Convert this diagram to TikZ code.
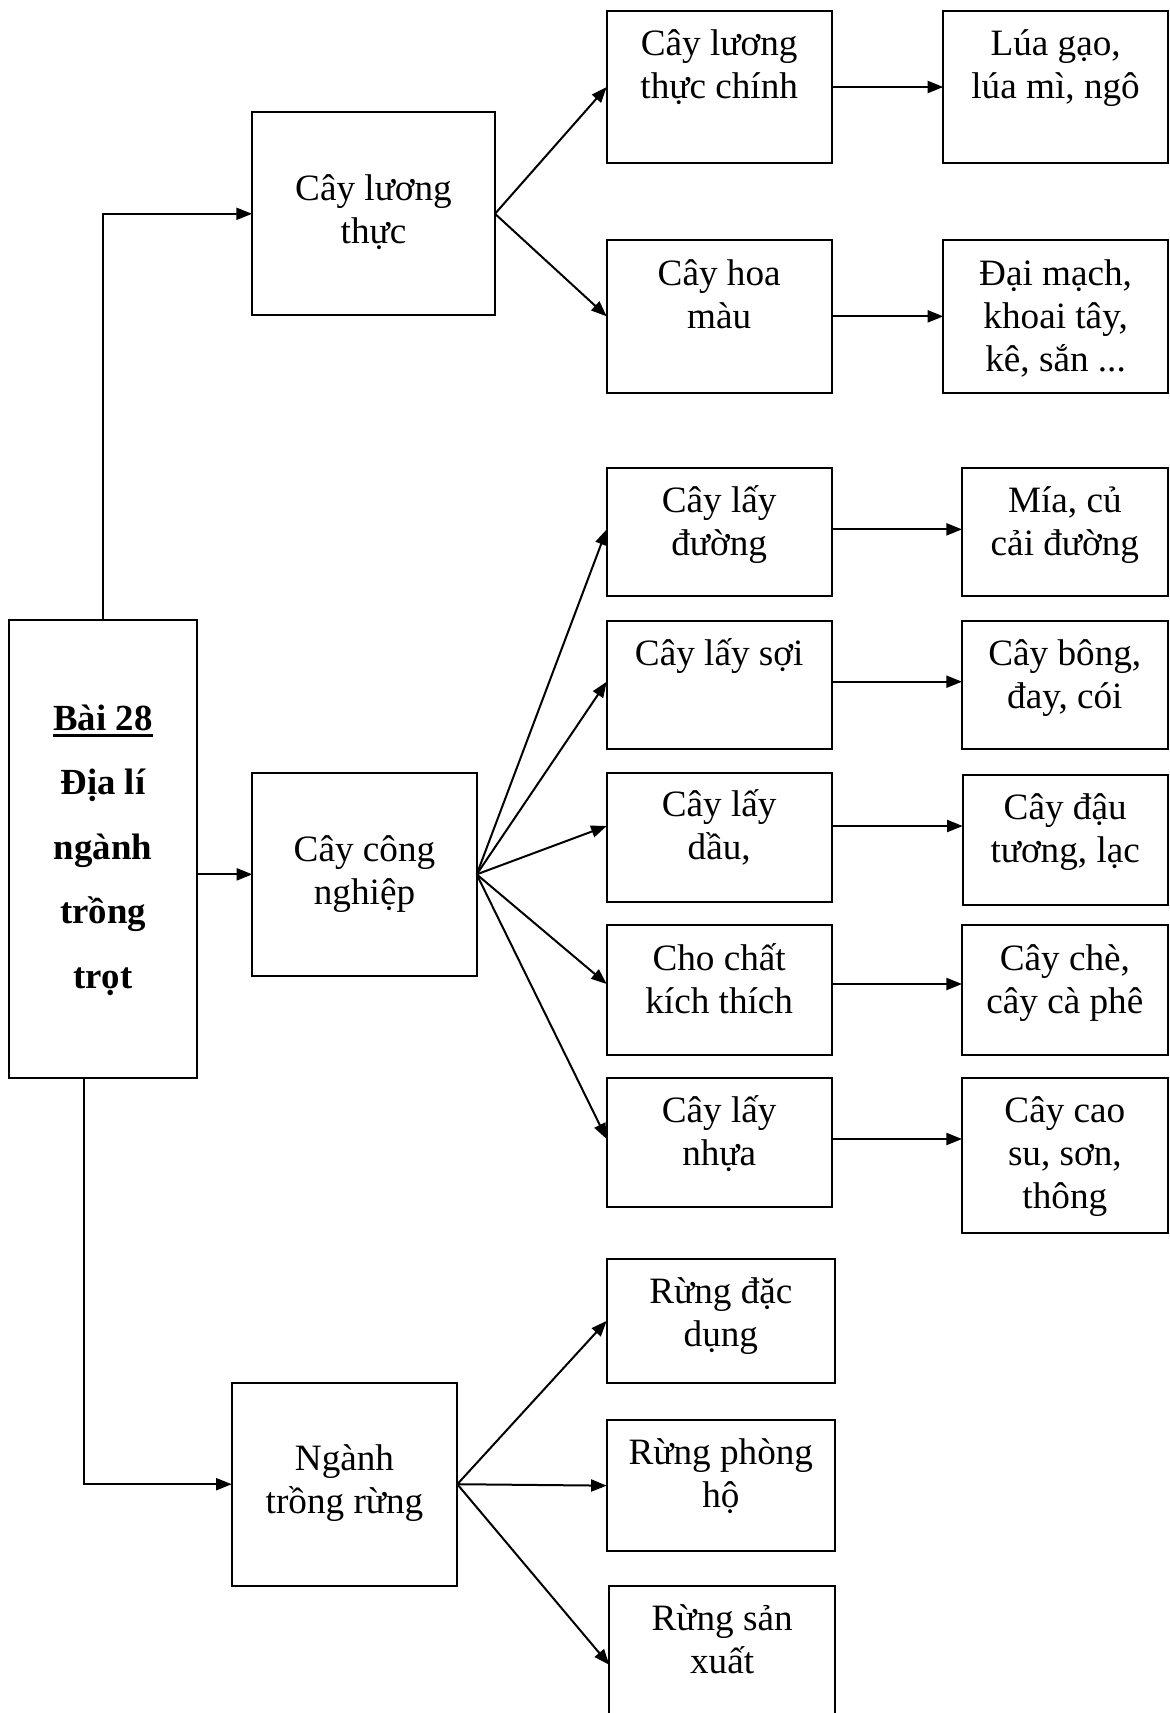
\documentclass[tikz,border=0pt]{standalone}
\usepackage{fontspec}
\setmainfont{Liberation Serif}
\usetikzlibrary{arrows.meta,calc}

% box text: width, height, first-baseline depth (all pt), lines
\newcommand\bt[4]{\parbox[c][#2pt][t]{#1pt}{\centering\lineskiplimit=-100pt\rule{0pt}{#3pt}#4\par}}
% heavy underline for the title
\newcommand\barunder[1]{\setbox0\hbox{#1}\rlap{\rule[-3.65pt]{\wd0}{1.65pt}}\box0}

\tikzset{
  box/.style={draw, line width=1pt, inner sep=0pt, outer sep=0pt, anchor=north west,
              font=\fontsize{18.6}{21.5}\selectfont},
  headbox/.style={box, font=\bfseries\fontsize{18.4}{32.3}\selectfont},
  conn/.style={line width=1pt, -{Triangle[length=7.8pt,width=6pt]}},
}

\begin{document}
\begin{tikzpicture}[x=0.5pt, y=-0.5pt]
  \fill[white] (0,0) rectangle (1170,1713);
  \useasboundingbox (0,0) rectangle (1170,1713);
  \clip (0,0) rectangle (1170,1713);

  % root
  \node[headbox] (main) at (9.3,620) {\bt{93.7}{228.85}{55}{\barunder{Bài 28}\\Địa lí\\ngành\\trồng\\trọt}};

  % food crops
  \node[box] (ln)  at (252,112.3)   {\bt{121.5}{101.5}{43.85}{Cây lương\\thực}};
  \node[box] (lnc) at (606.7,10.7)  {\bt{112.5}{76.3}{22.15}{Cây lương\\thực chính}};
  \node[box] (lg)  at (943.3,10.7)  {\bt{112.3}{76.3}{22.15}{Lúa gạo,\\lúa mì, ngô}};
  \node[box] (hm)  at (606.7,240)   {\bt{112.5}{76.35}{22.5}{Cây hoa\\màu}};
  \node[box] (dm)  at (943.3,240)   {\bt{112.3}{76.35}{22.5}{Đại mạch,\\khoai tây,\\kê, sắn ...}};

  % industrial crops
  \node[box] (cn)   at (252.3,772.7) {\bt{112.2}{101.65}{44.15}{Cây công\\nghiệp}};
  \node[box] (ld)   at (606.7,467.7) {\bt{112.5}{64.15}{22.5}{Cây lấy\\đường}};
  \node[box] (mia)  at (962,467.7)   {\bt{102.85}{64.15}{22.5}{Mía, củ\\cải đường}};
  \node[box] (ls)   at (606.7,620.7) {\bt{112.5}{64.3}{22.3}{Cây lấy sợi}};
  \node[box] (bong) at (962,621)     {\bt{102.85}{64.15}{22.15}{Cây bông,\\đay, cói}};
  \node[box] (dau)  at (606.7,772.7) {\bt{112.5}{64.8}{22}{Cây lấy\\dầu,}};
  \node[box] (dtg)  at (962.7,775)   {\bt{102.5}{65}{22.15}{Cây đậu\\tương, lạc}};
  \node[box] (kt)   at (606.7,925)   {\bt{112.5}{65}{22.5}{Cho chất\\kích thích}};
  \node[box] (che)  at (962,925)     {\bt{102.85}{65}{22.5}{Cây chè,\\cây cà phê}};
  \node[box] (nh)   at (606.7,1078.3){\bt{112.5}{64.5}{22.2}{Cây lấy\\nhựa}};
  \node[box] (cs)   at (962,1077.7)  {\bt{102.85}{77.8}{22.5}{Cây cao\\su, sơn,\\thông}};

  % forestry
  \node[box] (ntr) at (231.7,1382.7) {\bt{112.8}{101.5}{43.65}{Ngành\\trồng rừng}};
  \node[box] (rdd) at (606.7,1259)   {\bt{114.15}{61.85}{22.15}{Rừng đặc\\dụng}};
  \node[box] (rph) at (606.7,1420.3) {\bt{114.15}{65.35}{21.85}{Rừng phòng\\hộ}};
  \node[box] (rsx) at (609.3,1585.7) {\bt{112.85}{79.15}{22.15}{Rừng sản\\xuất}};

  % root branches
  \draw[conn] (main.north) |- (ln.west);
  \draw[conn] (main.east |- cn.west) -- (cn.west);
  \coordinate (mainfoot) at ($(main.south)+(-18.7,0)$);
  \draw[conn] (mainfoot) |- (ntr.west);

  % food crop links
  \draw[conn] (ln.east) -- (lnc.west);
  \draw[conn] (ln.east) -- (hm.west);
  \draw[conn] (lnc.east) -- (lg.west);
  \draw[conn] (hm.east) -- (dm.west);

  % industrial crop links
  \coordinate (t1) at ([yshift=1.25pt]ld.west);
  \coordinate (t2) at ([yshift=1.65pt]ls.west);
  \coordinate (t3) at ([yshift=5.75pt]dau.west);
  \coordinate (t4) at ([yshift=3pt]kt.west);
  \coordinate (t5) at ([yshift=1.9pt]nh.west);
  \draw[conn] (cn.east) -- (t1);
  \draw[conn] (cn.east) -- (t2);
  \draw[conn] (cn.east) -- (t3);
  \draw[conn] (cn.east) -- (t4);
  \draw[conn] (cn.east) -- (t5);
  \draw[conn] (t1 -| ld.east) -- (t1 -| mia.west);
  \draw[conn] (t2 -| ls.east) -- (t2 -| bong.west);
  \draw[conn] (t3 -| dau.east) -- (t3 -| dtg.west);
  \draw[conn] (t4 -| kt.east) -- (t4 -| che.west);
  \draw[conn] (t5 -| nh.east) -- (t5 -| cs.west);

  % forestry links
  \draw[conn] (ntr.east) -- (rdd.west);
  \draw[conn] (ntr.east) -- (rph.west);
  \draw[conn] (ntr.east) -- (rsx.west);
\end{tikzpicture}
\end{document}
